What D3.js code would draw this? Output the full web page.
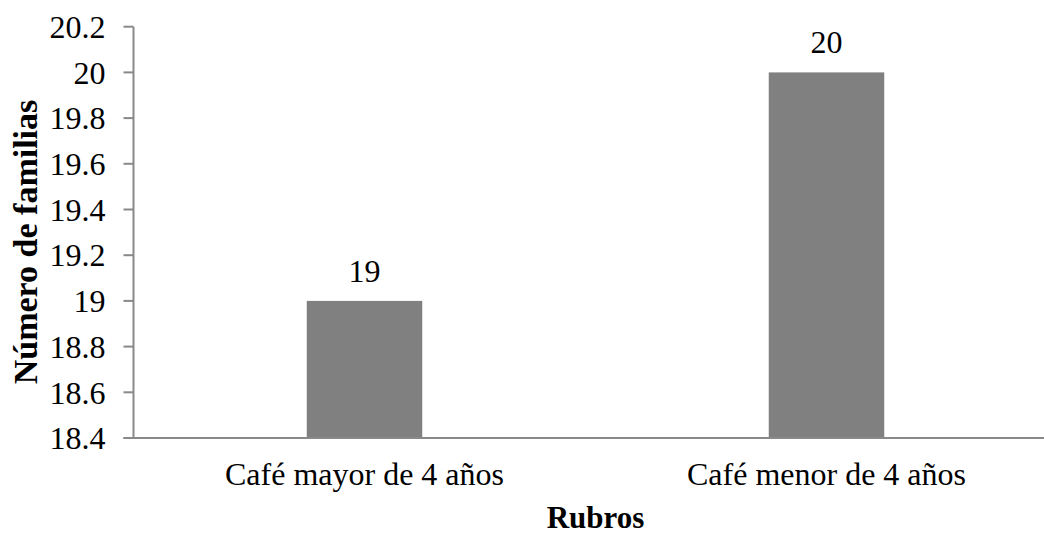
<!DOCTYPE html>
<html>
<head>
<meta charset="utf-8">
<title>Número de familias por rubro</title>
<script src="https://d3js.org/d3.v7.min.js"></script>
<style>
    body { margin: 0; background: #fff; }
    svg text { font-family: "Times New Roman", "Liberation Serif", Tinos, "DejaVu Serif", serif; fill: #000; }
    .axis-line { stroke: #898989; stroke-width: 2; }
    .tick-label { font-size: 32px; }
    .axis-title { font-weight: bold; }
</style>
</head>
<body>
<div id="chart"></div>
<script>
    // data
    const categories = ["Café mayor de 4 años", "Café menor de 4 años"];
    const values = [19, 20];
    const yTicks = [18.4, 18.6, 18.8, 19, 19.2, 19.4, 19.6, 19.8, 20, 20.2];

    const width = 1044, height = 534;
    const plotLeft = 133.5, plotTop = 26.7, plotBottom = 438;

    const svg = d3.select("#chart").append("svg")
        .attr("width", width)
        .attr("height", height);

    const y = d3.scaleLinear().domain([18.4, 20.2]).range([plotBottom, plotTop]);
    const x = d3.scaleBand().domain(categories)
        .range([plotLeft, plotLeft + 924])
        .paddingInner(0.75)
        .paddingOuter(0.375);

    // bars
    svg.append("g").selectAll("rect")
        .data(values)
        .enter().append("rect")
        .attr("x", (d, i) => x(categories[i]))
        .attr("y", d => y(d))
        .attr("width", x.bandwidth())
        .attr("height", d => plotBottom - y(d))
        .attr("fill", "#808080");

    // value labels
    svg.append("g").selectAll("text")
        .data(values)
        .enter().append("text")
        .attr("class", "tick-label")
        .attr("x", (d, i) => x(categories[i]) + x.bandwidth() / 2)
        .attr("y", d => y(d) - 19)
        .attr("text-anchor", "middle")
        .text(d => d);

    // y axis
    const yAxis = svg.append("g");
    yAxis.append("line").attr("class", "axis-line")
        .attr("x1", plotLeft).attr("x2", plotLeft)
        .attr("y1", plotTop).attr("y2", plotBottom);
    yAxis.selectAll(".tk")
        .data(yTicks)
        .enter().append("line")
        .attr("class", "axis-line")
        .attr("x1", plotLeft - 10).attr("x2", plotLeft)
        .attr("y1", d => y(d)).attr("y2", d => y(d));
    yAxis.selectAll("text")
        .data(yTicks)
        .enter().append("text")
        .attr("class", "tick-label")
        .attr("x", plotLeft - 28)
        .attr("y", d => y(d))
        .attr("dy", "0.35em")
        .attr("text-anchor", "end")
        .text(d => d3.format("~g")(d));

    // x axis
    svg.append("line").attr("class", "axis-line")
        .attr("x1", plotLeft - 10).attr("x2", width)
        .attr("y1", plotBottom).attr("y2", plotBottom);
    svg.append("g").selectAll("text")
        .data(categories)
        .enter().append("text")
        .attr("class", "tick-label")
        .attr("x", d => x(d) + x.bandwidth() / 2)
        .attr("y", 485)
        .attr("text-anchor", "middle")
        .text(d => d);

    // axis titles
    svg.append("text")
        .attr("class", "axis-title")
        .style("font-size", "31px")
        .attr("x", plotLeft + 462)
        .attr("y", 528)
        .attr("text-anchor", "middle")
        .text("Rubros");

    svg.append("text")
        .attr("class", "axis-title")
        .style("font-size", "34px")
        .attr("transform", "translate(37,242) rotate(-90)")
        .attr("text-anchor", "middle")
        .text("Número de familias");
</script>
</body>
</html>
